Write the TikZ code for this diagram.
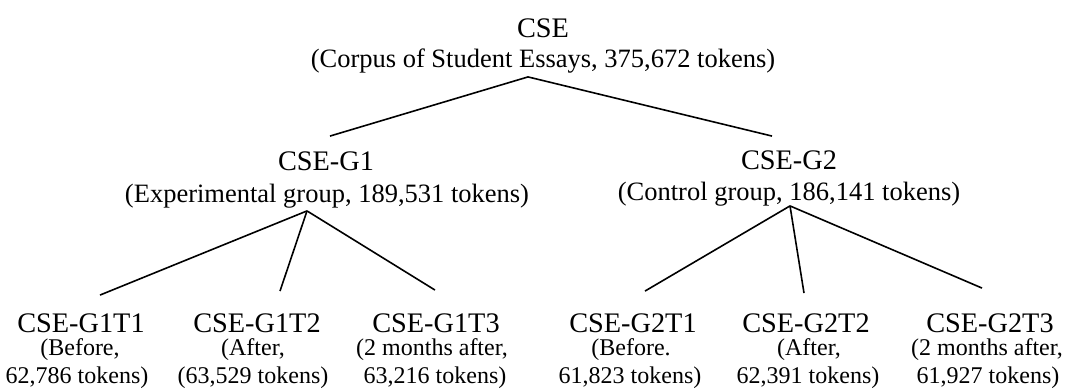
\documentclass[tikz,border=0pt]{standalone}
\usepackage{fontspec}
\setmainfont{Liberation Serif}
\begin{document}
\begin{tikzpicture}[x=1pt,y=-1pt,
  ttl/.style={font=\fontsize{28.3}{30}\selectfont, inner sep=0pt, anchor=base},
  sub/.style={font=\fontsize{26.5}{28}\selectfont, inner sep=0pt, anchor=base},
  lf/.style={font=\fontsize{24}{26}\selectfont, inner sep=0pt, anchor=base},
  edge/.style={line width=1.6pt, black}]
\useasboundingbox (0,0) rectangle (1067,388);
% level 0
\node[ttl] (root) at (543,37) {CSE};
\node[sub] (rootsub) at (543,67) {(Corpus of Student Essays, 375,672 tokens)};
% level 1
\node[ttl] (g1) at (326,170) {CSE-G1};
\node[sub] (g1sub) at (327,202) {(Experimental group, 189,531 tokens)};
\node[ttl] (g2) at (789,169) {CSE-G2};
\node[sub] (g2sub) at (789,200) {(Control group, 186,141 tokens)};
% level 2
\node[ttl] (t11) at (81,332) {CSE-G1T1};
\node[lf] (t11a) at (80,355) {(Before,};
\node[lf] (t11b) at (77,383) {62,786 tokens)};
\node[ttl] (t12) at (257,332) {CSE-G1T2};
\node[lf] (t12a) at (253,355) {(After,};
\node[lf] (t12b) at (253,383) {(63,529 tokens)};
\node[ttl] (t13) at (436,332) {CSE-G1T3};
\node[lf] (t13a) at (432,355) {(2 months after,};
\node[lf] (t13b) at (435,383) {63,216 tokens)};
\node[ttl] (t21) at (633,332) {CSE-G2T1};
\node[lf] (t21a) at (631,355) {(Before.};
\node[lf] (t21b) at (630,383) {61,823 tokens)};
\node[ttl] (t22) at (806,332) {CSE-G2T2};
\node[lf] (t22a) at (809,355) {(After,};
\node[lf] (t22b) at (808,383) {62,391 tokens)};
\node[ttl] (t23) at (990,332) {CSE-G2T3};
\node[lf] (t23a) at (987,355) {(2 months after,};
\node[lf] (t23b) at (988,383) {61,927 tokens)};
% connectors
\draw[edge] ([shift={(-15,4)}]rootsub.south) -- ([shift={(4,-15)}]g1.north);
\draw[edge] ([shift={(-15,4)}]rootsub.south) -- ([shift={(-17,-14)}]g2.north);
\draw[edge] ([shift={(-20,3)}]g1sub.south) -- ([shift={(19,-18)}]t11.north);
\draw[edge] ([shift={(-20,3)}]g1sub.south) -- ([shift={(23,-22)}]t12.north);
\draw[edge] ([shift={(-20,3)}]g1sub.south) -- ([shift={(-1,-23)}]t13.north);
\draw[edge] ([shift={(1,0)}]g2sub.south) -- ([shift={(12,-22)}]t21.north);
\draw[edge] ([shift={(1,0)}]g2sub.south) -- ([shift={(-2,-20)}]t22.north);
\draw[edge] ([shift={(1,0)}]g2sub.south) -- ([shift={(-8,-25)}]t23.north);
\end{tikzpicture}
\end{document}
